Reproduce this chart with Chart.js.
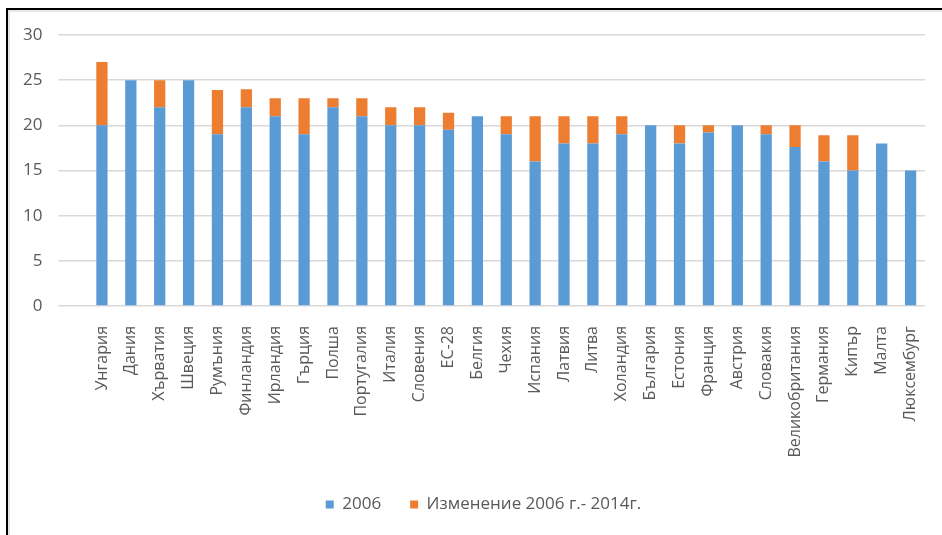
<!DOCTYPE html>
<html>
<head>
<meta charset="utf-8">
<script src="https://cdn.jsdelivr.net/npm/chart.js@4"></script>
<style>
    html, body { margin: 0; padding: 0; background: #fff; }
    #wrap { position: relative; width: 942px; height: 535px; }
    #frame {
        position: absolute; left: 6px; top: 8px; right: 0; bottom: 0;
        border-left: 2px solid #000; border-top: 2px solid #000;
        box-shadow: inset 2px 2px 0 #e6e6e6;
        pointer-events: none;
    }
    canvas { position: absolute; left: 0; top: 0; }
</style>
</head>
<body>
<div id="wrap">
    <canvas id="chart" width="942" height="535"></canvas>
    <div id="frame"></div>
</div>
<script>
    const countries = ['Унгария', 'Дания', 'Хърватия', 'Швеция', 'Румъния', 'Финландия', 'Ирландия', 'Гърция',
        'Полша', 'Португалия', 'Италия', 'Словения', 'ЕС-28', 'Белгия', 'Чехия', 'Испания', 'Латвия', 'Литва',
        'Холандия', 'България', 'Естония', 'Франция', 'Австрия', 'Словакия', 'Великобритания', 'Германия',
        'Кипър', 'Малта', 'Люксембург'];
    const values2006 = [20, 25, 22, 25, 19, 22, 21, 19, 22, 21, 20, 20, 19.5, 21, 19, 16, 18, 18,
        19, 20, 18, 19.2, 20, 19, 17.6, 16, 15, 18, 15];
    const change2006to2014 = [7, 0, 3, 0, 4.9, 2, 2, 4, 1, 2, 2, 2, 1.9, 0, 2, 5, 3, 3,
        2, 0, 2, 0.8, 0, 1, 2.4, 2.9, 3.9, 0, 0];
    const yTicks = [0, 5, 10, 15, 20, 25, 30];

    const textColor = '#595959';
    const font = "'Open Sans', sans-serif";

    // the legend sits a bit right of the canvas centre in the original
    const legendShift = {
        id: 'legendShift',
        afterLayout(chart) {
            chart.legend.left += 15;
            chart.legend.right += 15;
        }
    };

    new Chart(document.getElementById('chart'), {
        type: 'bar',
        data: {
            labels: countries,
            datasets: [
                {
                    label: '2006',
                    data: values2006,
                    backgroundColor: '#5B9BD5'
                },
                {
                    label: 'Изменение 2006 г.- 2014г.',
                    data: change2006to2014,
                    backgroundColor: '#ED7D31'
                }
            ]
        },
        plugins: [legendShift],
        options: {
            responsive: false,
            animation: false,
            datasets: {
                bar: { categoryPercentage: 1, barPercentage: 0.39 }
            },
            layout: { padding: { left: 8, right: 13, top: 35, bottom: 12 } },
            plugins: {
                tooltip: { enabled: false },
                legend: {
                    position: 'bottom',
                    labels: {
                        color: textColor,
                        font: { family: font, size: 17 },
                        boxWidth: 8,
                        boxHeight: 8,
                        padding: 29
                    }
                }
            },
            scales: {
                x: {
                    stacked: true,
                    grid: { display: false },
                    border: { display: false },
                    afterFit: (scale) => { scale.height = 161; },
                    ticks: {
                        color: textColor,
                        font: { family: font, size: 16 },
                        minRotation: 90,
                        maxRotation: 90,
                        autoSkip: false,
                        padding: 12
                    }
                },
                y: {
                    stacked: true,
                    min: yTicks[0],
                    max: yTicks[yTicks.length - 1],
                    afterBuildTicks: (scale) => { scale.ticks = yTicks.map(v => ({ value: v })); },
                    afterFit: (scale) => { scale.width = 79.5; },
                    grid: { color: '#D9D9D9', lineWidth: 1.5, drawTicks: true, tickLength: 29 },
                    border: { display: false },
                    ticks: {
                        color: textColor,
                        font: { family: font, size: 17 },
                        padding: 16
                    }
                }
            }
        }
    });
</script>
</body>
</html>
